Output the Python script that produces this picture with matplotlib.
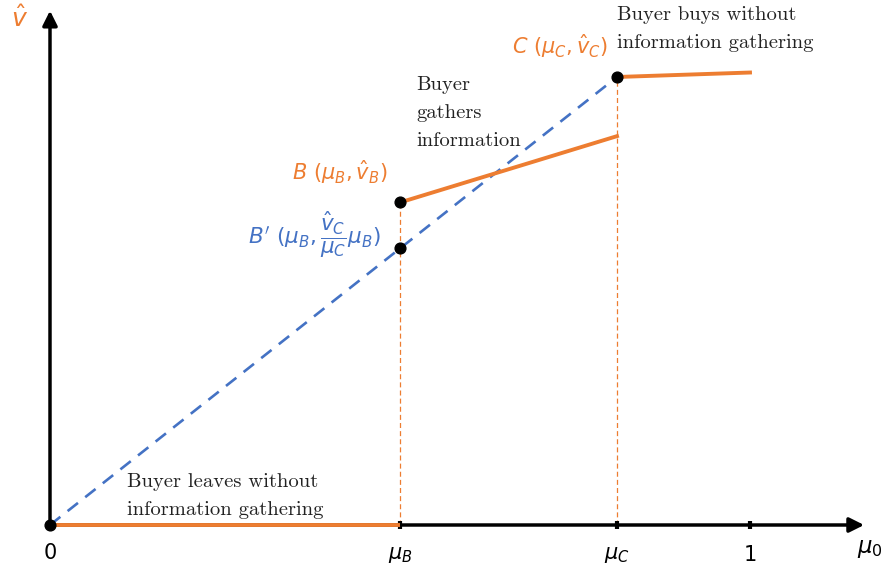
import matplotlib
matplotlib.use("Agg")
import matplotlib.pyplot as plt

plt.rcParams['mathtext.fontset'] = 'dejavusans'

ORANGE = '#ED7D31'
BLUE = '#4472C4'

# Thresholds on the prior and the corresponding valuations
mu_B = 0.50
mu_C = 0.81
v_B = 0.72
v_C = 1.00
v_gather_end = 0.868     # value of the "gathers information" branch at mu_C
v_buy_end = 1.01         # value of the "buys" branch at mu_0 = 1

x_ticks = [mu_B, mu_C, 1.0]
x_tick_labels = [r'$\mu_B$', r'$\mu_C$', '1']

fig = plt.figure(figsize=(8.95, 5.74), dpi=100)
ax = fig.add_axes([0, 0, 1, 1])
ax.set_xlim(-50 / 700, 845 / 700)
ax.set_ylim(-49 / 448, 525 / 448)
ax.axis('off')

# Axes with arrow heads
arrow_kw = dict(arrowstyle='-|>', lw=2.5, color='black', mutation_scale=22,
                shrinkA=0, shrinkB=0)
ax.annotate('', xy=(1.163, 0), xytext=(0, 0), arrowprops=arrow_kw, zorder=2)
ax.annotate('', xy=(0, 1.148), xytext=(0, 0), arrowprops=arrow_kw, zorder=2)

# Tick marks
for xt in x_ticks:
    ax.plot([xt, xt], [-0.009, 0.009], color='black', lw=3, solid_capstyle='butt', zorder=3)

# Vertical guides
ax.plot([mu_B, mu_B], [0, v_B], color=ORANGE, lw=0.9, ls=(0, (4, 2.5)), zorder=1)
ax.plot([mu_C, mu_C], [0, v_C], color=ORANGE, lw=0.9, ls=(0, (4, 2.5)), zorder=1)

# Diagonal from origin to C
ax.plot([0, mu_C], [0, v_C], color=BLUE, lw=1.9, ls=(0, (5, 3.5)), zorder=2)

# Value branches
ax.plot([0, mu_B], [0, 0], color=ORANGE, lw=2.8, solid_capstyle='butt', zorder=3)
ax.plot([mu_B, mu_C], [v_B, v_gather_end], color=ORANGE, lw=2.8, zorder=3)
ax.plot([mu_C, 1.0], [v_C, v_buy_end], color=ORANGE, lw=2.8, zorder=3)

# Points
v_Bprime = v_C / mu_C * mu_B
ax.scatter([0, mu_B, mu_B, mu_C], [0, v_B, v_Bprime, v_C], s=60, color='black', zorder=5)

# Axis labels
ax.text(-0.043, 1.13, r'$\hat{v}$', color=ORANGE, fontsize=18, ha='center', va='center')
ax.text(1.171, -0.052, r'$\mu_0$', color='black', fontsize=16.5, ha='center', va='center')
ax.text(0, -0.062, '0', color='black', fontsize=15, ha='center', va='center',
        family='DejaVu Sans')
for xt, lab in zip(x_ticks, x_tick_labels):
    ax.text(xt, -0.066, lab, color='black', fontsize=15, ha='center', va='center',
            family='DejaVu Sans')

# Point labels
ax.text(mu_B - 0.018, v_B + 0.067, r'$B\ (\mu_B, \hat{v}_B)$', color=ORANGE,
        fontsize=15, ha='right', va='center')
ax.text(mu_B - 0.027, v_Bprime + 0.03, r"$B'\ (\mu_B, \dfrac{\hat{v}_C}{\mu_C}\mu_B)$",
        color=BLUE, fontsize=15.5, ha='right', va='center')
ax.text(mu_C - 0.013, v_C + 0.068, r'$C\ (\mu_C, \hat{v}_C)$', color=ORANGE,
        fontsize=15, ha='right', va='center')

# Region annotations
serif = dict(family='cmr10', fontsize=14.8, color='#222222', linespacing=1.72)
ax.text(mu_C, 1.108, 'Buyer buys without\ninformation gathering', ha='left', va='center', **serif)
ax.text(0.523, 0.92, 'Buyer\ngathers\ninformation', ha='left', va='center', **serif)
ax.text(0.11, 0.064, 'Buyer leaves without\ninformation gathering', ha='left', va='center', **serif)

fig.savefig('out.png', dpi=100)
